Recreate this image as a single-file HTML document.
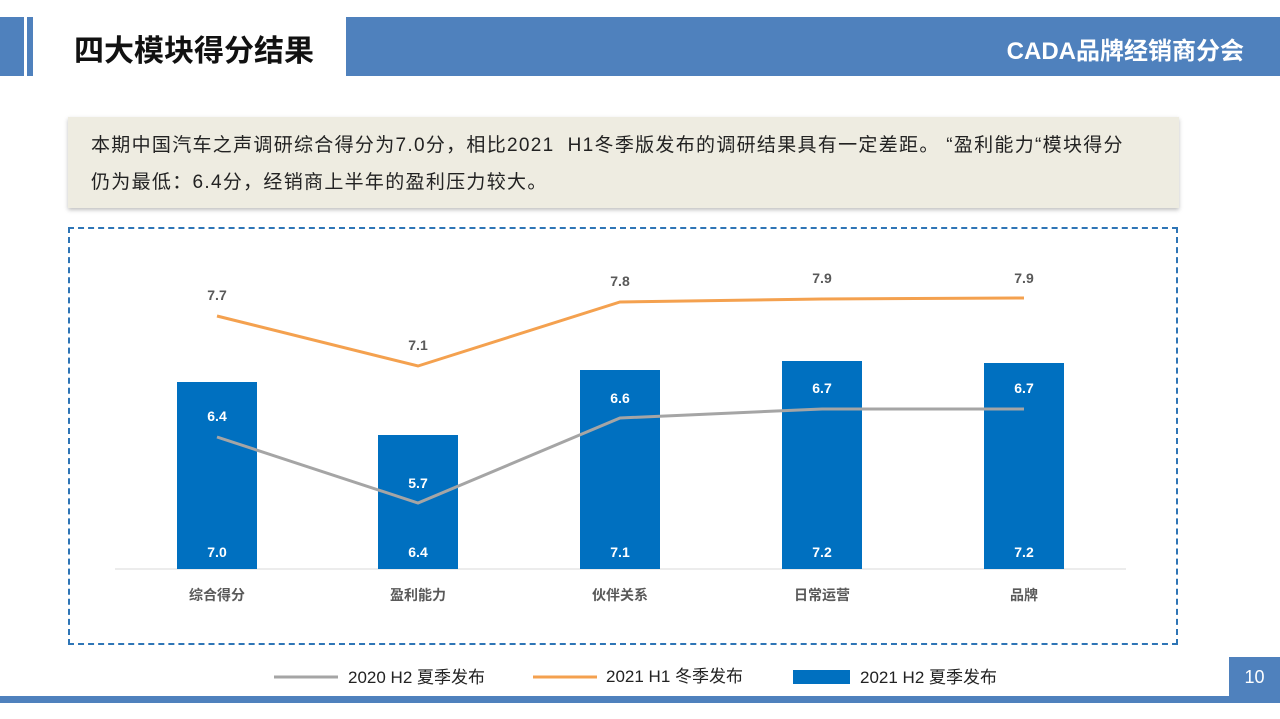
<!DOCTYPE html>
<html><head><meta charset="utf-8"><style>
body{margin:0;width:1280px;height:719px;background:#fff;position:relative;overflow:hidden;font-family:"Liberation Sans","Noto Sans CJK SC",sans-serif}
.a{position:absolute}
</style></head><body>
<div class="a" style="left:0;top:17px;width:24px;height:59px;background:#4f81bd"></div>
<div class="a" style="left:27px;top:17px;width:6px;height:59px;background:#4f81bd"></div>
<div class="a" style="left:74px;top:26px;font-size:30px;font-weight:bold;color:#111">四大模块得分结果</div>
<div class="a" style="left:346px;top:17px;width:934px;height:59px;background:#4f81bd"></div>
<div class="a" style="right:36px;top:31px;font-size:24px;font-weight:bold;color:#fff">CADA品牌经销商分会</div>
<div class="a" style="left:68px;top:117px;width:1111px;height:91px;background:#eeece1;box-shadow:0 2px 4px rgba(0,0,0,.25)"></div>
<div class="a" style="left:91px;top:127px;white-space:nowrap;font-size:19px;line-height:37px;letter-spacing:1.3px;color:#222">本期中国汽车之声调研综合得分为7.0分，相比2021&nbsp; H1冬季版发布的调研结果具有一定差距。 “盈利能力“模块得分<br>仍为最低：6.4分，经销商上半年的盈利压力较大。</div>
<div class="a" style="left:68px;top:227px;width:1110px;height:418px;border:2px dashed #2e75b6;box-sizing:border-box"></div>
<svg class="a" style="left:0;top:0" width="1280" height="719">
<line x1="115" y1="569" x2="1126" y2="569" stroke="#d9d9d9"/>
<g fill="#0070c0">
<rect x="177" y="382" width="80" height="187"/><rect x="378" y="435" width="80" height="134"/>
<rect x="580" y="370" width="80" height="199"/><rect x="782" y="361" width="80" height="208"/>
<rect x="984" y="363" width="80" height="206"/></g>
<polyline points="217,437 418,503 620,418 822,409 1024,409" fill="none" stroke="#a5a5a5" stroke-width="3"/>
<polyline points="217,316 418,366 620,302 822,299 1024,298" fill="none" stroke="#f4a14f" stroke-width="3"/>
<g font-size="14" font-weight="bold" text-anchor="middle" fill="#fff">
<text x="217" y="557">7.0</text><text x="418" y="557">6.4</text><text x="620" y="557">7.1</text><text x="822" y="557">7.2</text><text x="1024" y="557">7.2</text>
<text x="217" y="421">6.4</text><text x="418" y="488">5.7</text><text x="620" y="403">6.6</text><text x="822" y="393">6.7</text><text x="1024" y="393">6.7</text></g>
<g font-size="14" font-weight="bold" text-anchor="middle" fill="#595959">
<text x="217" y="300">7.7</text><text x="418" y="350">7.1</text><text x="620" y="286">7.8</text><text x="822" y="283">7.9</text><text x="1024" y="283">7.9</text></g>
<g font-size="14" font-weight="bold" text-anchor="middle" fill="#595959">
<text x="217" y="600">综合得分</text><text x="418" y="600">盈利能力</text><text x="620" y="600">伙伴关系</text><text x="822" y="600">日常运营</text><text x="1024" y="600">品牌</text></g>
<line x1="274" y1="677" x2="338" y2="677" stroke="#a5a5a5" stroke-width="3"/>
<line x1="533" y1="677" x2="597" y2="677" stroke="#f4a14f" stroke-width="3"/>
<rect x="793" y="670" width="57" height="14" fill="#0070c0"/>
<g font-size="17" fill="#222"><text x="348" y="683">2020 H2 夏季发布</text><text x="606" y="682">2021 H1 冬季发布</text><text x="860" y="683">2021 H2 夏季发布</text></g>
</svg>
<div class="a" style="left:1229px;top:657px;width:51px;height:40px;background:#4f81bd;color:#fff;font-size:18px;text-align:center;line-height:40px">10</div>
<div class="a" style="left:0;top:696px;width:1280px;height:7px;background:#4f81bd"></div>
</body></html>
